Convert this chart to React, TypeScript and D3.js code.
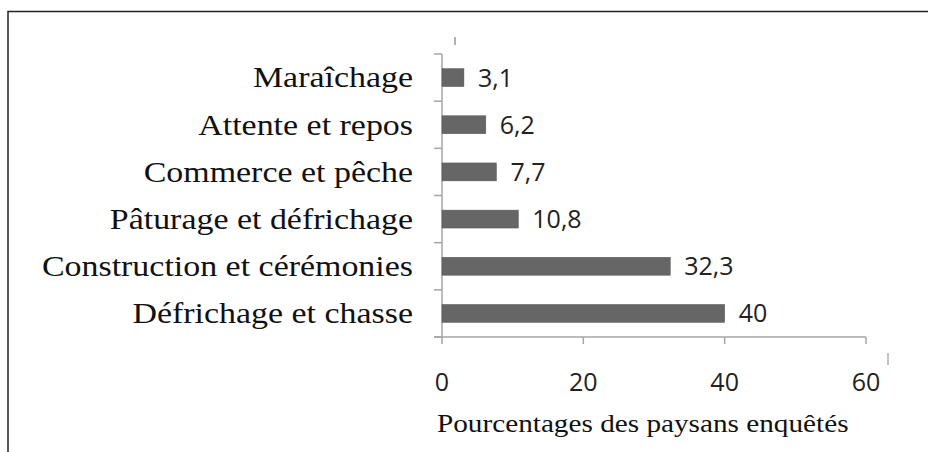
import React from "react";
import * as d3 from "d3";

const categories = [
  "Maraîchage",
  "Attente et repos",
  "Commerce et pêche",
  "Pâturage et défrichage",
  "Construction et cérémonies",
  "Défrichage et chasse",
];
const values = [3.1, 6.2, 7.7, 10.8, 32.3, 40];
const valueLabels = ["3,1", "6,2", "7,7", "10,8", "32,3", "40"];
const xTicks = [0, 20, 40, 60];
const xTitle = "Pourcentages des paysans enquêtés";

const W = 928;
const H = 452;
const left = 442;
const right = 866;
const top = 54;
const bottom = 337;

export default function App() {
  const x = d3.scaleLinear().domain([0, 60]).range([left, right]);
  const y = d3.scaleBand<string>().domain(categories).range([top, bottom]).paddingInner(0.62).paddingOuter(0.31);
  const bandStep = (bottom - top) / categories.length;
  const serif = "'Liberation Serif', 'Times New Roman', serif";
  const sans = "'Open Sans', 'Noto Sans', sans-serif";
  const axisColor = "#a6a6a6";
  const sx = 1.17;
  return (
    <svg width={W} height={H} style={{ position: "absolute", left: 0, top: 0, background: "#fff" }}>
      <rect x={8} y={11.5} width={W + 10} height={H + 10} fill="none" stroke="#222" strokeWidth={1.5} />
      {/* stray marks */}
      <line x1={455} x2={455} y1={37} y2={45} stroke="#999" strokeWidth={1.5} />
      <line x1={888} x2={888} y1={353} y2={365} stroke="#999" strokeWidth={1.2} />
      {/* y axis */}
      <line x1={left} x2={left} y1={top} y2={bottom} stroke={axisColor} strokeWidth={1.5} />
      {d3.range(categories.length + 1).map((i) => (
        <line key={i} x1={left - 8} x2={left} y1={top + i * bandStep} y2={top + i * bandStep} stroke={axisColor} strokeWidth={1.5} />
      ))}
      {/* x axis */}
      <line x1={left - 8} x2={right} y1={bottom} y2={bottom} stroke={axisColor} strokeWidth={1.5} />
      {xTicks.map((t) => (
        <g key={t}>
          <line x1={x(t)} x2={x(t)} y1={bottom} y2={bottom + 7} stroke={axisColor} strokeWidth={1.5} />
          <text x={x(t)} y={391} textAnchor="middle" fontFamily={sans} fontSize={25} fill="#222">
            {t}
          </text>
        </g>
      ))}
      {/* bars */}
      {categories.map((c, i) => {
        const by = y(c)!;
        const bh = y.bandwidth();
        return (
          <g key={c}>
            <rect x={x(0)} y={by} width={x(values[i]) - x(0)} height={bh} fill="#666666" stroke="#555" strokeWidth={0.5} />
            <text x={x(values[i]) + 14} y={by + bh / 2} dy="0.36em" fontFamily={sans} fontSize={25} fill="#222">
              {valueLabels[i]}
            </text>
            <text
              transform={`translate(413,${by + bh / 2}) scale(${sx},1)`}
              dy="0.34em"
              textAnchor="end"
              fontFamily={serif}
              fontSize={29}
              fill="#111"
            >
              {c}
            </text>
          </g>
        );
      })}
      <text transform={`translate(437,432) scale(${sx},1)`} fontFamily={serif} fontSize={25} fill="#111">
        {xTitle}
      </text>
    </svg>
  );
}
